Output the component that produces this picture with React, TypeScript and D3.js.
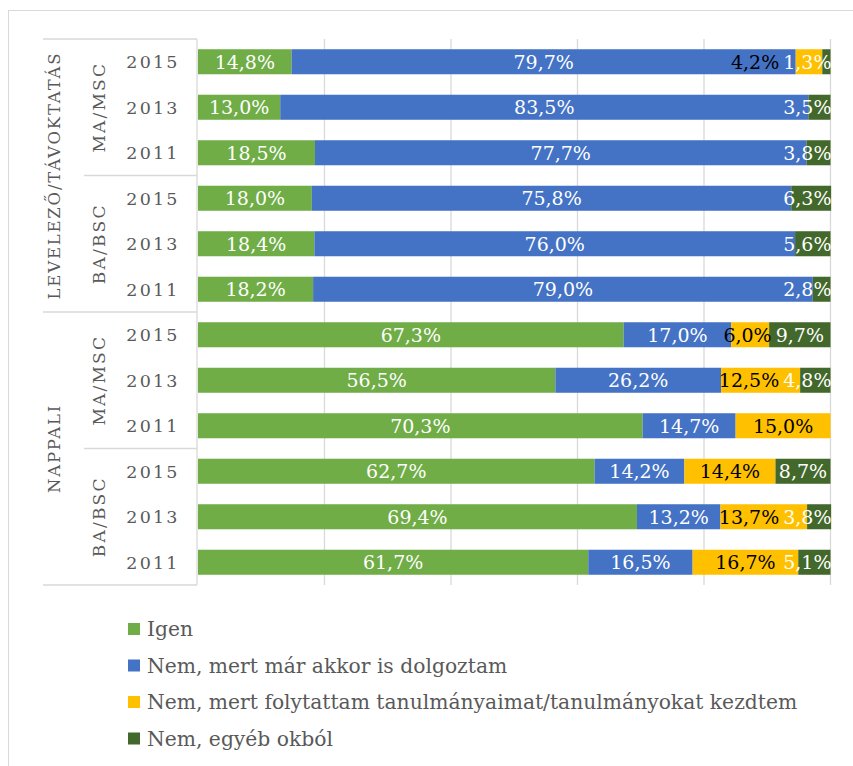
import React, { useEffect, useRef } from 'react';
import * as d3 from 'd3';

// ---- data ----
const rowLabels = ['2015', '2013', '2011', '2015', '2013', '2011', '2015', '2013', '2011', '2015', '2013', '2011'];
const subGroups = ['MA/MSC', 'BA/BSC', 'MA/MSC', 'BA/BSC'];
const groups = ['LEVELEZŐ/TÁVOKTATÁS', 'NAPPALI'];
const seriesNames = [
  'Igen',
  'Nem, mert már akkor is dolgoztam',
  'Nem, mert folytattam tanulmányaimat/tanulmányokat kezdtem',
  'Nem, egyéb okból',
];
const igen = [14.8, 13.0, 18.5, 18.0, 18.4, 18.2, 67.3, 56.5, 70.3, 62.7, 69.4, 61.7];
const dolgoztam = [79.7, 83.5, 77.7, 75.8, 76.0, 79.0, 17.0, 26.2, 14.7, 14.2, 13.2, 16.5];
const tanulmany = [4.2, 0, 0, 0, 0, 0, 6.0, 12.5, 15.0, 14.4, 13.7, 16.7];
const egyeb = [1.3, 3.5, 3.8, 6.3, 5.6, 2.8, 9.7, 4.8, 0, 8.7, 3.8, 5.1];
const xTicks = [0, 20, 40, 60, 80, 100];

const seriesValues = [igen, dolgoztam, tanulmany, egyeb];
const colors = ['#70AD47', '#4472C4', '#FFC000', '#43682B'];
const labelColors = ['#ffffff', '#ffffff', '#000000', '#ffffff'];

const W = 853;
const H = 766;
const FONT = '"DejaVu Serif", serif';
const GRID = '#d9d9d9';
const TXT = '#595959';

export default function App() {
  const ref = useRef<SVGSVGElement | null>(null);

  useEffect(() => {
    const svg = d3.select(ref.current);
    svg.selectAll('*').remove();

    const x = d3.scaleLinear().domain([0, 100]).range([198, 830.5]);
    const y = d3
      .scaleBand<number>()
      .domain(d3.range(rowLabels.length))
      .range([39, 585])
      .paddingInner(0.45)
      .paddingOuter(0.225);
    const step = y.step();
    const top = 39;
    const bottom = 585;

    // outer frame
    svg
      .append('rect')
      .attr('x', 8.5)
      .attr('y', 10.5)
      .attr('width', W + 20)
      .attr('height', H + 20)
      .attr('fill', '#fff')
      .attr('stroke', GRID);

    // gridlines
    svg
      .append('g')
      .selectAll('line')
      .data(xTicks.slice(1))
      .join('line')
      .attr('x1', (d) => x(d))
      .attr('x2', (d) => x(d))
      .attr('y1', top)
      .attr('y2', bottom)
      .attr('stroke', GRID)
      .attr('stroke-width', 1.3);

    // category axis lines
    const ax = svg.append('g').attr('stroke', GRID).attr('stroke-width', 1.3);
    ax.append('line').attr('x1', 197).attr('x2', 197).attr('y1', top).attr('y2', bottom);
    [0, 6, 12].forEach((i) => {
      const yy = top + i * step;
      ax.append('line').attr('x1', 43).attr('x2', 197).attr('y1', yy).attr('y2', yy);
    });
    [3, 9].forEach((i) => {
      const yy = top + i * step;
      ax.append('line').attr('x1', 84).attr('x2', 197).attr('y1', yy).attr('y2', yy);
    });

    // bars
    const stacked = rowLabels.map((_, i) => {
      let acc = 0;
      return seriesValues.map((s, k) => {
        const v = s[i];
        const seg = { k, v, x0: acc, x1: acc + v, row: i };
        acc += v;
        return seg;
      });
    });

    const barsG = svg.append('g');
    stacked.forEach((segs, i) => {
      segs
        .filter((s) => s.v > 0)
        .forEach((s) => {
          barsG
            .append('rect')
            .attr('x', x(s.x0))
            .attr('y', y(i)!)
            .attr('width', Math.max(0, x(s.x1) - x(s.x0)))
            .attr('height', y.bandwidth())
            .attr('fill', colors[s.k]);
        });
    });

    // data labels with clamping / overlap avoidance
    const labG = svg.append('g').attr('font-family', FONT).attr('font-size', 19);
    const fmt = (v: number) => v.toFixed(1).replace('.', ',') + '%';
    stacked.forEach((segs, i) => {
      const nodes = segs
        .filter((s) => s.v > 0)
        .map((s) => {
          const t = labG
            .append('text')
            .attr('text-anchor', 'middle')
            .attr('y', y(i)! + y.bandwidth() / 2)
            .attr('dy', '0.36em')
            .attr('fill', labelColors[s.k])
            .text(fmt(s.v));
          const w = (t.node() as SVGTextElement).getComputedTextLength();
          return { t, w, c: x((s.x0 + s.x1) / 2) };
        });
      let limit = x(100) + 1;
      for (let j = nodes.length - 1; j >= 0; j--) {
        const n = nodes[j];
        if (n.c + n.w / 2 > limit) n.c = limit - n.w / 2;
        limit = n.c - n.w / 2 - 4;
      }
      nodes.forEach((n) => n.t.attr('x', n.c));
    });

    // year labels
    svg
      .append('g')
      .selectAll('text')
      .data(rowLabels)
      .join('text')
      .attr('x', 153)
      .attr('y', (_, i) => y(i)! + y.bandwidth() / 2)
      .attr('dy', '0.36em')
      .attr('text-anchor', 'middle')
      .attr('font-family', FONT)
      .attr('font-size', 17.5)
      .attr('letter-spacing', 2.2)
      .attr('fill', TXT)
      .text((d) => d);

    // sub-group labels
    subGroups.forEach((g, j) => {
      const cy = top + (j * 3 + 1.5) * step;
      svg
        .append('text')
        .attr('transform', `translate(99,${cy}) rotate(-90)`)
        .attr('dy', '0.36em')
        .attr('text-anchor', 'middle')
        .attr('font-family', FONT)
        .attr('font-size', 17)
        .attr('letter-spacing', 2.2)
        .attr('fill', TXT)
        .text(g);
    });

    // group labels
    groups.forEach((g, j) => {
      const cy = top + (j * 6 + 3) * step;
      svg
        .append('text')
        .attr('transform', `translate(54,${cy}) rotate(-90)`)
        .attr('dy', '0.36em')
        .attr('text-anchor', 'middle')
        .attr('font-family', FONT)
        .attr('font-size', 16.5)
        .attr('letter-spacing', 1.8)
        .attr('fill', TXT)
        .text(g);
    });

    // legend
    const lg = svg.append('g');
    seriesNames.forEach((name, k) => {
      const cy = 629 + k * 36.5;
      lg.append('rect')
        .attr('x', 128)
        .attr('y', cy - 6)
        .attr('width', 12)
        .attr('height', 12)
        .attr('fill', colors[k]);
      lg.append('text')
        .attr('x', 147)
        .attr('y', cy)
        .attr('dy', '0.36em')
        .attr('font-family', FONT)
        .attr('font-size', 20.3)
        .attr('fill', TXT)
        .text(name);
    });
  }, []);

  return (
    <svg
      ref={ref}
      width={W}
      height={H}
      style={{ position: 'absolute', left: 0, top: 0, overflow: 'hidden', background: '#fff' }}
    />
  );
}
